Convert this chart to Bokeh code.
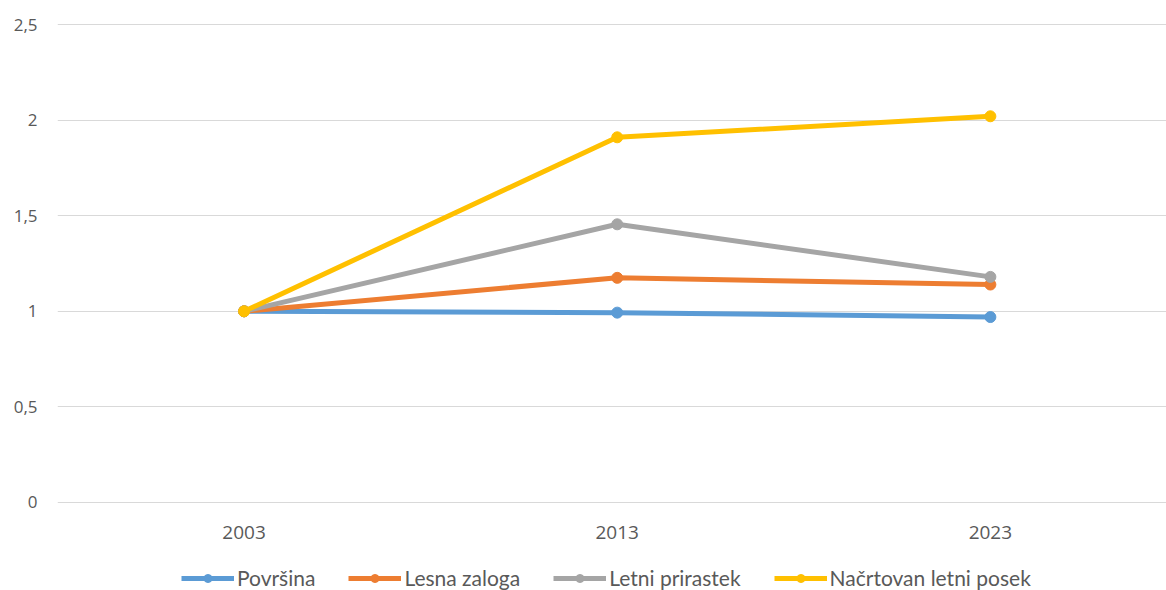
from bokeh.plotting import figure
from bokeh.models import FixedTicker, Legend, LegendItem, Range1d, ColumnDataSource
from bokeh.core.properties import value
from bokeh.embed import file_html
from bokeh.resources import INLINE

# Index series (2003 = 1)
years = ["2003", "2013", "2023"]
povrsina = [1.0, 0.993, 0.97]
lesna_zaloga = [1.0, 1.175, 1.14]
letni_prirastek = [1.0, 1.455, 1.18]
nacrtovan_posek = [1.0, 1.91, 2.02]

series_names = ["Površina", "Lesna zaloga", "Letni prirastek", "Načrtovan letni posek"]
series_values = [povrsina, lesna_zaloga, letni_prirastek, nacrtovan_posek]
colors = ["#5B9BD5", "#ED7D31", "#A5A5A5", "#FFC000"]

y_ticks = [0, 0.5, 1, 1.5, 2, 2.5]
y_tick_labels = ["0", "0,5", "1", "1,5", "2", "2,5"]

x = list(range(len(years)))

# The plotting frame runs down to the bottom edge so the category labels
# and the legend sit inside it, below the zero line.
p = figure(
    width=1166, height=590,
    x_range=Range1d(-0.5, 2.472), y_range=Range1d(-0.4603, 2.5105),
    output_backend="svg", toolbar_location=None, x_axis_location=None,
    min_border_left=57, min_border_right=0, min_border_top=22, min_border_bottom=0,
)
p.outline_line_color = None
p.background_fill_color = "white"
p.border_fill_color = "white"

label_color = "#595959"

yax = p.yaxis[0]
yax.ticker = FixedTicker(ticks=y_ticks)
yax.major_label_overrides = dict(zip(y_ticks, y_tick_labels))
yax.axis_line_color = None
yax.major_tick_line_color = None
yax.minor_tick_line_color = None
yax.major_tick_out = 0
yax.major_tick_in = 0
yax.major_label_text_font = "Open Sans"
yax.major_label_text_font_size = "17px"
yax.major_label_text_color = label_color
yax.major_label_standoff = 20

p.xgrid.grid_line_color = None
p.ygrid.ticker = FixedTicker(ticks=y_ticks)
p.ygrid.grid_line_color = "#D9D9D9"
p.ygrid.grid_line_width = 1

# Category labels under the zero line
cat_src = ColumnDataSource(dict(x=x, y=[-0.157] * len(years), text=years))
p.text(x="x", y="y", text="text", source=cat_src,
       text_font=value("Open Sans"), text_font_size="19px",
       text_color=label_color, text_align="center", text_baseline="middle")

items = []
for name, vals, col in zip(series_names, series_values, colors):
    ln = p.line(x, vals, line_color=col, line_width=5)
    sc = p.scatter(x, vals, marker="circle", size=11, fill_color=col, line_color=col)
    items.append(LegendItem(label=name, renderers=[ln, sc]))

legend = Legend(
    items=items, orientation="horizontal", location=(124, 0),
    glyph_width=53, glyph_height=20, label_standoff=3, spacing=33,
    label_text_font="Lato", label_text_font_size="21px",
    label_text_color=label_color, border_line_color=None,
    background_fill_alpha=0, padding=2, margin=0,
)
p.add_layout(legend, "center")

with open("out.html", "w") as f:
    f.write(file_html(p, INLINE))
